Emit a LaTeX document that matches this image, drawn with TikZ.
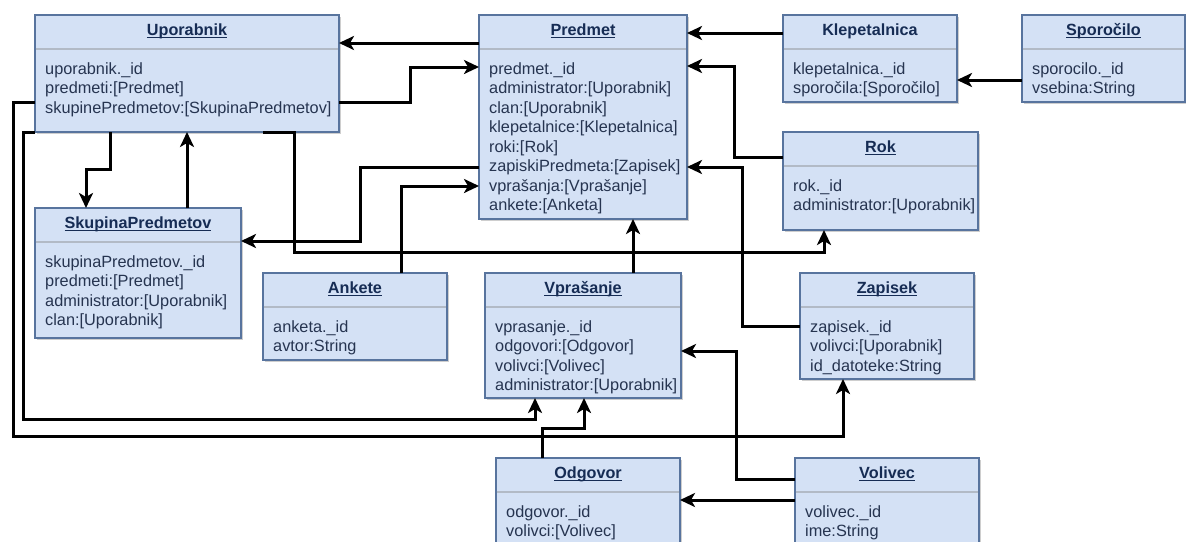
\documentclass[tikz,border=0pt]{standalone}
\usepackage{fontspec}
\setmainfont{Liberation Sans}
\usetikzlibrary{arrows.meta,calc,shadows}
\newsavebox\ulsave
\newcommand\ulin[1]{\sbox\ulsave{#1}\rlap{\rule[-2.9pt]{\wd\ulsave}{1.3pt}}\usebox\ulsave}
\definecolor{boxfill}{RGB}{212,225,245}
\definecolor{boxborder}{RGB}{88,116,158}
\definecolor{sepcol}{RGB}{178,186,198}
\definecolor{ttlcol}{RGB}{22,44,84}
\definecolor{attcol}{RGB}{38,52,80}
\tikzset{
  cls/.style={draw=boxborder, fill=boxfill, line width=1.4pt, rectangle, inner sep=0pt, outer sep=0pt, anchor=north west,
    drop shadow={shadow xshift=2pt, shadow yshift=-2pt, opacity=0.35, fill=black!55}},
  sepline/.style={draw=sepcol, line width=1.2pt},
  ttl/.style={anchor=base, inner sep=0pt, text=ttlcol, font=\bfseries\fontsize{16.2}{19.5}\selectfont},
  attr/.style={anchor=north west, inner sep=0pt, align=left, text=attcol, font=\fontsize{16.3}{19.5}\selectfont},
  conn/.style={draw=black, line width=3pt, -{Stealth[length=15pt,width=14pt,inset=4pt]}}
}
\newcommand\mkclass[7]{%
  \node[cls, minimum width=#4pt, minimum height=#5pt] (#1) at (#2,#3) {};
  \draw[sepline] ($(#1.north west)+(0.7,34)$) -- ($(#1.north east)+(-0.7,34)$);
  \node[ttl] (#1T) at ($(#1.north)+(0,20.5)$) {#6};
  \node[attr] (#1A) at ($(#1.north west)+(10,45.5)$) {\strut #7};
}
\begin{document}
\begin{tikzpicture}[x=1pt,y=-1pt]
\useasboundingbox (0,0) rectangle (1186,541);
\clip (0,0) rectangle (1186,541);
\fill[white] (0,0) rectangle (1186,541);

\mkclass{upo}{35}{15}{304}{117}{\ulin{Uporabnik}}{uporabnik.\_id\\predmeti:[Predmet]\\skupinePredmetov:[SkupinaPredmetov]}
\mkclass{pred}{479}{15}{208}{204}{\ulin{Predmet}}{predmet.\_id\\administrator:[Uporabnik]\\clan:[Uporabnik]\\klepetalnice:[Klepetalnica]\\roki:[Rok]\\zapiskiPredmeta:[Zapisek]\\vprašanja:[Vprašanje]\\ankete:[Anketa]}
\mkclass{klep}{783}{15}{174}{87}{Klepetalnica}{klepetalnica.\_id\\sporočila:[Sporočilo]}
\mkclass{spor}{1022}{15}{163}{87}{\ulin{Sporočilo}}{sporocilo.\_id\\vsebina:String}
\mkclass{rok}{783}{132}{195}{98}{\ulin{Rok}}{rok.\_id\\administrator:[Uporabnik]}
\mkclass{skup}{35}{208}{206}{130}{\ulin{SkupinaPredmetov}}{skupinaPredmetov.\_id\\predmeti:[Predmet]\\administrator:[Uporabnik]\\clan:[Uporabnik]}
\mkclass{ank}{263}{273}{184}{87}{\ulin{Ankete}}{anketa.\_id\\avtor:String}
\mkclass{vpr}{485}{273}{196}{125}{\ulin{Vprašanje}}{vprasanje.\_id\\odgovori:[Odgovor]\\volivci:[Volivec]\\administrator:[Uporabnik]}
\mkclass{zap}{800}{273}{174}{106}{\ulin{Zapisek}}{zapisek.\_id\\volivci:[Uporabnik]\\id\_datoteke:String}
\mkclass{odg}{496}{458}{184}{110}{\ulin{Odgovor}}{odgovor.\_id\\volivci:[Volivec]}
\mkclass{vol}{795}{458}{184}{110}{\ulin{Volivec}}{volivec.\_id\\ime:String}

% connectors
\draw[conn] ($(pred.north west)+(0,28)$) coordinate (c1) -- (c1 -| upo.east);
\draw[conn] ($(upo.north east)+(0,87)$) -- ++(71,0) |- ($(pred.north west)+(0,52)$);
\draw[conn] ($(klep.north west)+(0,18)$) coordinate (c3) -- (c3 -| pred.east);
\draw[conn] ($(spor.north west)+(0,65)$) coordinate (c4) -- (c4 -| klep.east);
\draw[conn] ($(rok.north west)+(0,25)$) -- ++(-49,0) |- ($(pred.north east)+(0,51)$);
\draw[conn] ($(zap.north west)+(0,53)$) -- ++(-58,0) |- ($(pred.north east)+(0,152)$);
\draw[conn] ($(pred.north west)+(0,152)$) -- ++(-119,0) |- ($(skup.north east)+(0,33)$);
\draw[conn] ($(ank.north west)+(138,0)$) |- ($(pred.north west)+(0,171)$);
\draw[conn] ($(upo.south west)+(75,0)$) -- ++(0,37) -| ($(skup.north west)+(51,0)$);
\draw[conn] ($(skup.north west)+(152,0)$) coordinate (c10) -- (c10 |- upo.south);
\draw[conn] ($(upo.south west)+(228,0)$) -- ++(31,0) -- ++(0,120) -| ($(rok.south west)+(41,0)$);
\draw[conn] ($(vpr.north west)+(148,0)$) coordinate (c12) -- (c12 |- pred.south);
\draw[conn] (upo.south west) -- ++(-12,0) -- ++(0,287) -| ($(vpr.south west)+(50,0)$);
\draw[conn] ($(upo.north west)+(0,87)$) -- ++(-22,0) -- ++(0,334) -| ($(zap.south west)+(43,0)$);
\draw[conn] ($(odg.north west)+(46,0)$) -- ++(0,-30) -| ($(vpr.south west)+(99,0)$);
\draw[conn] ($(vol.north west)+(0,21)$) -- ++(-59,0) |- ($(vpr.north east)+(0,78)$);
\draw[conn] ($(vol.north west)+(0,42)$) coordinate (c17) -- (c17 -| odg.east);
\end{tikzpicture}
\end{document}
